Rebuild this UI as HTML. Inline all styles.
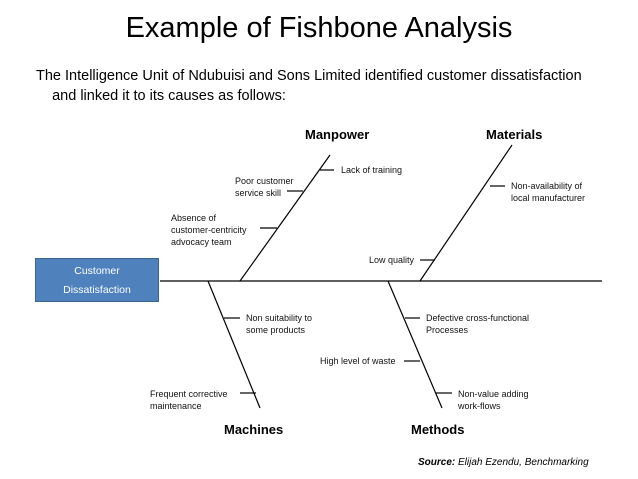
<!DOCTYPE html>
<html><head><style>
body{margin:0;width:638px;height:479px;background:#fff;font-family:"Liberation Sans",sans-serif;overflow:hidden;position:relative}
.t{position:absolute;font-size:9px;line-height:12px;color:#111;white-space:nowrap}
.h{position:absolute;font-size:13px;font-weight:bold}
</style></head><body>
<div style="position:absolute;left:0;width:638px;top:12px;text-align:center;font-size:29px;">Example of Fishbone Analysis</div>
<div style="position:absolute;left:36px;top:66px;font-size:14.5px;line-height:20px">The Intelligence Unit of Ndubuisi and Sons Limited identified customer dissatisfaction<br>&nbsp;&nbsp;&nbsp;&nbsp;and linked it to its causes as follows:</div>
<div style="position:absolute;left:35px;top:258px;width:124px;height:44px;background:#4f81bd;border:1px solid #3a6592;color:#fff;font-size:10.5px;line-height:19px;text-align:center;padding-top:3px;box-sizing:border-box">Customer<br>Dissatisfaction</div>
<svg width="638" height="479" style="position:absolute;left:0;top:0" stroke="#000" stroke-width="1.2">
<line x1="160" y1="281" x2="602" y2="281"/>
<line x1="240" y1="281" x2="330" y2="155"/>
<line x1="420" y1="281" x2="512" y2="145"/>
<line x1="208" y1="281" x2="260" y2="408"/>
<line x1="388" y1="281" x2="442" y2="408"/>
<line x1="320" y1="170" x2="334" y2="170"/>
<line x1="287" y1="191" x2="303" y2="191"/>
<line x1="260" y1="228" x2="277" y2="228"/>
<line x1="420" y1="260" x2="435" y2="260"/>
<line x1="490" y1="186" x2="505" y2="186"/>
<line x1="224" y1="318" x2="240" y2="318"/>
<line x1="240" y1="393" x2="256" y2="393"/>
<line x1="405" y1="318" x2="420" y2="318"/>
<line x1="404" y1="361" x2="420" y2="361"/>
<line x1="436" y1="393" x2="452" y2="393"/>
</svg>
<div class="h" style="left:305px;top:127px">Manpower</div>
<div class="h" style="left:486px;top:127px">Materials</div>
<div class="h" style="left:224px;top:422px">Machines</div>
<div class="h" style="left:411px;top:422px">Methods</div>
<div class="t" style="left:341px;top:164px">Lack of training</div>
<div class="t" style="left:235px;top:175px">Poor customer<br>service skill</div>
<div class="t" style="left:171px;top:212px">Absence of<br>customer-centricity<br>advocacy team</div>
<div class="t" style="left:369px;top:254px">Low quality</div>
<div class="t" style="left:511px;top:180px">Non-availability of<br>local manufacturer</div>
<div class="t" style="left:246px;top:312px">Non suitability to<br>some products</div>
<div class="t" style="left:150px;top:388px">Frequent corrective<br>maintenance</div>
<div class="t" style="left:426px;top:312px">Defective cross-functional<br>Processes</div>
<div class="t" style="left:320px;top:355px">High level of waste</div>
<div class="t" style="left:458px;top:388px">Non-value adding<br>work-flows</div>
<div style="position:absolute;left:418px;top:457px;font-size:10px;font-style:italic"><b>Source:</b> Elijah Ezendu, Benchmarking</div>
</body></html>
